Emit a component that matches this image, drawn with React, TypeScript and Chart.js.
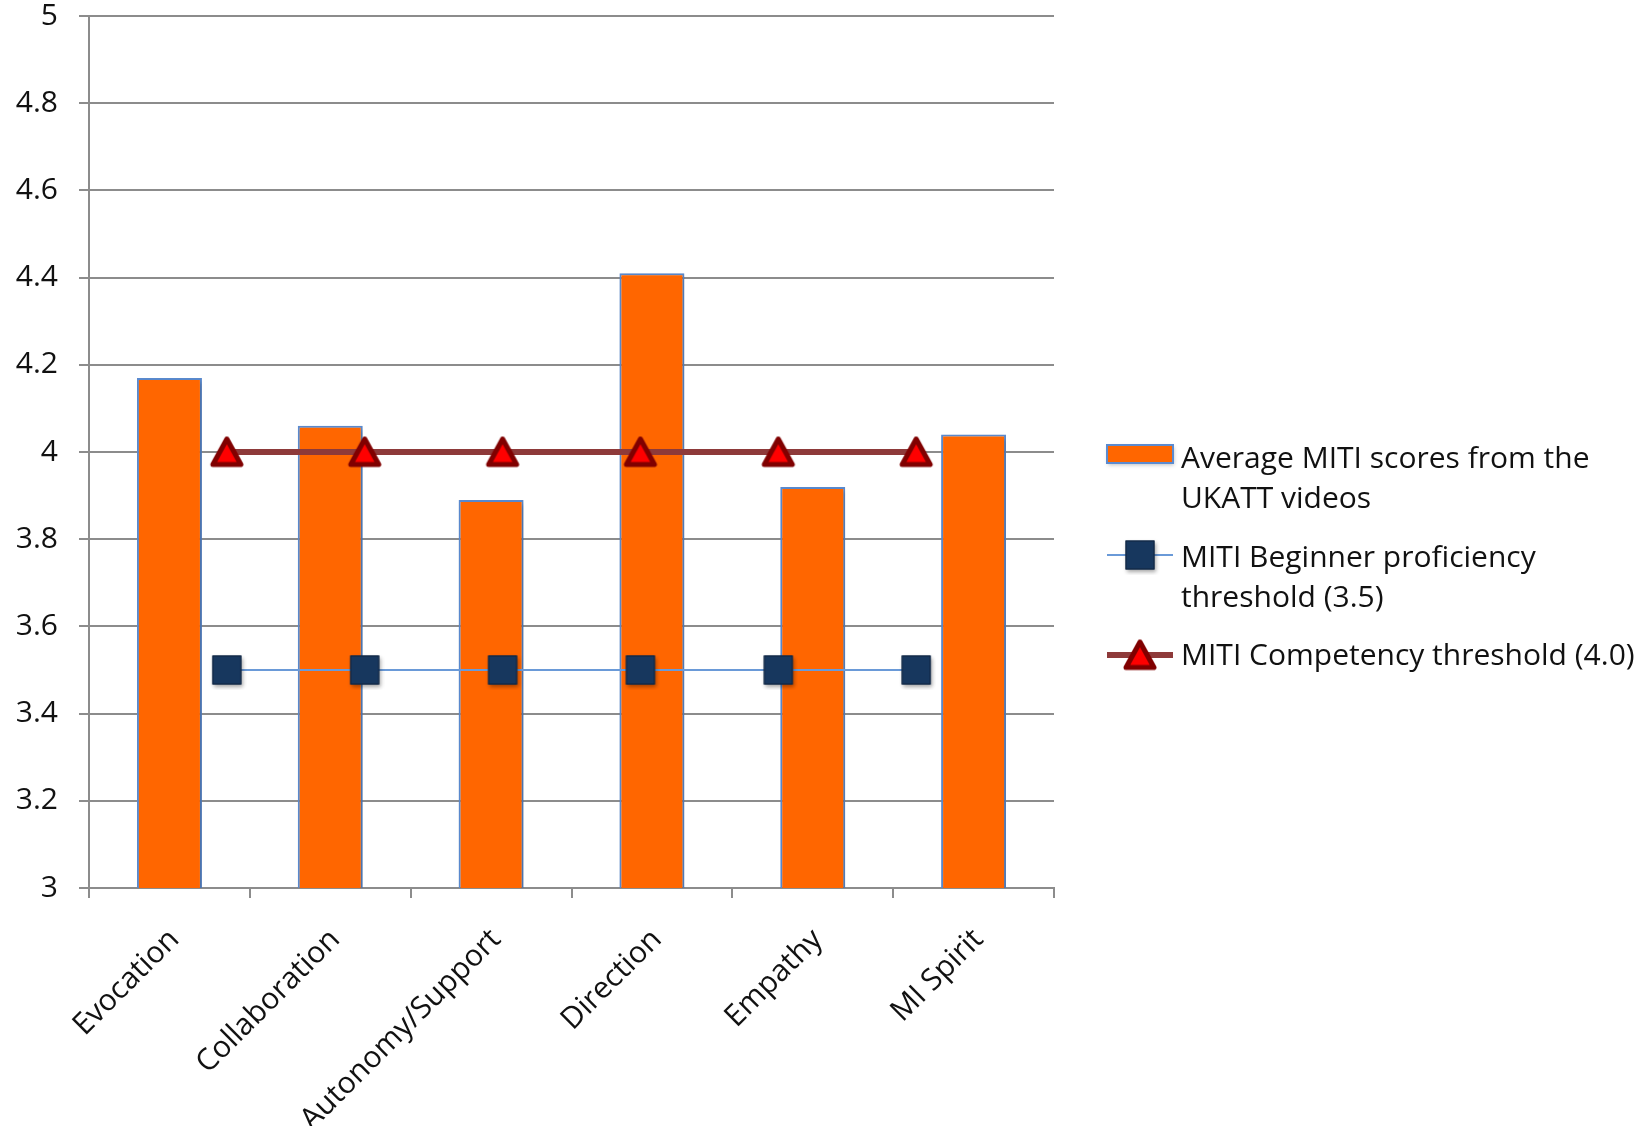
import React, { useEffect, useRef } from "react";
import { Chart, registerables } from "chart.js";

Chart.register(...registerables);

const categories = ["Evocation", "Collaboration", "Autonomy/Support", "Direction", "Empathy", "MI Spirit"];
const averageScores = [4.17, 4.06, 3.89, 4.41, 3.92, 4.04];
const beginnerThreshold = [3.5, 3.5, 3.5, 3.5, 3.5, 3.5];
const competencyThreshold = [4.0, 4.0, 4.0, 4.0, 4.0, 4.0];
const seriesNames = [
  "Average MITI scores from the UKATT videos",
  "MITI Beginner proficiency threshold (3.5)",
  "MITI Competency threshold (4.0)",
];
const legendLines = [
  ["Average MITI scores from the", "UKATT videos"],
  ["MITI Beginner proficiency", "threshold (3.5)"],
  ["MITI Competency threshold (4.0)"],
];
const yMin = 3;
const yMax = 5;
const yStep = 0.2;

const FONT = "'Open Sans'";
const FONT_SIZE = 30;
const BAR_FILL = "#FF6600";
const BAR_BORDER = "#5B8BD0";
const BLUE_LINE = "#6A9AD8";
const NAVY = "#17375E";
const RED_LINE = "#8E3A3A";
const GRID = "#8C8C8C";

function makeTriangle(): HTMLCanvasElement {
  const c = document.createElement("canvas");
  c.width = 40;
  c.height = 39;
  const ctx = c.getContext("2d")!;
  ctx.beginPath();
  ctx.moveTo(20, 6.5);
  ctx.lineTo(34, 32);
  ctx.lineTo(6, 32);
  ctx.closePath();
  ctx.fillStyle = "#FF0000";
  ctx.fill();
  ctx.lineJoin = "round";
  ctx.lineWidth = 5;
  ctx.strokeStyle = "#800000";
  ctx.stroke();
  return c;
}

function makeSquare(): HTMLCanvasElement {
  const c = document.createElement("canvas");
  c.width = 40;
  c.height = 40;
  const ctx = c.getContext("2d")!;
  ctx.shadowColor = "rgba(0,0,0,0.35)";
  ctx.shadowBlur = 4;
  ctx.shadowOffsetX = 1;
  ctx.shadowOffsetY = 2;
  ctx.fillStyle = NAVY;
  ctx.fillRect(5.5, 5.5, 29, 29);
  ctx.shadowColor = "transparent";
  ctx.lineWidth = 1;
  ctx.strokeStyle = "#10253F";
  ctx.strokeRect(6, 6, 28, 28);
  return c;
}

export default function App() {
  const ref = useRef<HTMLCanvasElement | null>(null);

  useEffect(() => {
    if (!ref.current) return;
    const tri = makeTriangle();
    const sq = makeSquare();

    const barShadow = {
      id: "barShadow",
      beforeDatasetDraw(chart: any, args: any) {
        if (args.meta.type === "bar") {
          const ctx = chart.ctx;
          ctx.save();
          ctx.shadowColor = "rgba(0,0,0,0.25)";
          ctx.shadowBlur = 5;
          ctx.shadowOffsetX = 2;
          ctx.shadowOffsetY = 2;
        }
      },
      afterDatasetDraw(chart: any, args: any) {
        if (args.meta.type === "bar") chart.ctx.restore();
      },
    };

    const customLegend = {
      id: "customLegend",
      afterDraw(chart: any) {
        const ctx = chart.ctx;
        const area = chart.chartArea;
        const x0 = area.right + 53;
        const x1 = x0 + 66;
        const xm = (x0 + x1) / 2;
        const tx = x1 + 8;
        const lineH = 40;
        const starts = [459, 558, 656];
        ctx.save();
        ctx.font = `${FONT_SIZE}px ${FONT}`;
        ctx.fillStyle = "#111";
        ctx.textBaseline = "middle";
        ctx.textAlign = "left";
        legendLines.forEach((lines, i) => {
          lines.forEach((t, j) => ctx.fillText(t, tx, starts[i] + j * lineH));
        });
        // bar swatch
        const sy = starts[0] - 5;
        ctx.save();
        ctx.shadowColor = "rgba(0,0,0,0.25)";
        ctx.shadowBlur = 4;
        ctx.shadowOffsetX = 1;
        ctx.shadowOffsetY = 2;
        ctx.fillStyle = BAR_FILL;
        ctx.fillRect(x0, sy - 9, x1 - x0, 18);
        ctx.restore();
        ctx.strokeStyle = BAR_BORDER;
        ctx.lineWidth = 2;
        ctx.strokeRect(x0, sy - 9, x1 - x0, 18);
        // beginner
        const by = starts[1] - 3;
        ctx.strokeStyle = BLUE_LINE;
        ctx.lineWidth = 2;
        ctx.beginPath();
        ctx.moveTo(x0, by);
        ctx.lineTo(x1, by);
        ctx.stroke();
        ctx.drawImage(sq, xm - sq.width / 2, by - sq.height / 2);
        // competency
        const cy = starts[2] - 1;
        ctx.strokeStyle = RED_LINE;
        ctx.lineWidth = 6;
        ctx.beginPath();
        ctx.moveTo(x0, cy);
        ctx.lineTo(x1, cy);
        ctx.stroke();
        ctx.drawImage(tri, xm - tri.width / 2, cy - tri.height / 2);
        ctx.restore();
      },
    };

    const chart = new Chart(ref.current, {
      type: "bar",
      data: {
        labels: categories,
        datasets: [
          {
            type: "line",
            label: seriesNames[2],
            data: competencyThreshold.map((v, i) => ({ x: i + 1, y: v })),
            xAxisID: "x2",
            borderColor: RED_LINE,
            borderWidth: 6,
            pointStyle: tri,
            pointRadius: 16,
            tension: 0,
            order: 0,
          } as any,
          {
            type: "line",
            label: seriesNames[1],
            data: beginnerThreshold.map((v, i) => ({ x: i + 1, y: v })),
            xAxisID: "x2",
            borderColor: BLUE_LINE,
            borderWidth: 2,
            pointStyle: sq,
            pointRadius: 16,
            tension: 0,
            order: 1,
          } as any,
          {
            type: "bar",
            label: seriesNames[0],
            data: averageScores,
            xAxisID: "x",
            backgroundColor: BAR_FILL,
            borderColor: BAR_BORDER,
            borderWidth: 2,
            barPercentage: 0.404,
            categoryPercentage: 1,
            grouped: false,
            order: 10,
          },
        ],
      },
      options: {
        animation: false,
        responsive: false,
        layout: { autoPadding: false, padding: { top: 16, right: 598, left: 0, bottom: 0 } },
        plugins: {
          legend: { display: false },
          tooltip: { enabled: false },
        },
        scales: {
          x: {
            type: "category",
            offset: true,
            afterFit(scale: any) {
              scale.height = 238;
              scale.paddingLeft = 0;
              scale.paddingRight = 0;
            },
            grid: {
              offset: true,
              drawOnChartArea: false,
              drawTicks: true,
              tickLength: 10,
              color: GRID,
              lineWidth: 2,
            },
            border: { display: true, color: GRID, width: 2 },
            ticks: {
              minRotation: 45,
              maxRotation: 45,
              autoSkip: false,
              padding: 24,
              labelOffset: 5,
              color: "#111",
              font: { family: FONT, size: FONT_SIZE },
            },
          },
          x2: {
            type: "linear",
            display: false,
            offset: false,
            min: 0,
            max: categories.length + 1,
          },
          y: {
            min: yMin,
            max: yMax,
            afterFit(scale: any) {
              scale.width = 89;
              scale.paddingTop = 0;
              scale.paddingBottom = 0;
            },
            ticks: {
              stepSize: yStep,
              padding: 21,
              color: "#111",
              font: { family: FONT, size: FONT_SIZE },
              callback: (v: any) => String(Number(Number(v).toFixed(1))),
            },
            grid: {
              color: GRID,
              lineWidth: 2,
              tickLength: 10,
              drawTicks: true,
            },
            border: { display: true, color: GRID, width: 2 },
          },
        },
      } as any,
      plugins: [barShadow, customLegend],
    });
    return () => chart.destroy();
  }, []);

  return (
    <div style={{ position: "absolute", left: 0, top: 0, width: 1652, height: 1126, background: "#fff" }}>
      <canvas ref={ref} width={1652} height={1126} style={{ display: "block" }} />
    </div>
  );
}
